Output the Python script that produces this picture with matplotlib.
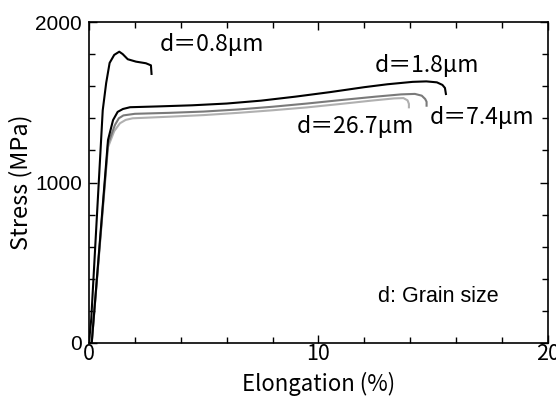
import matplotlib
matplotlib.use("Agg")
import matplotlib.pyplot as plt
from matplotlib.ticker import MultipleLocator

# Elongation (%) / Stress (MPa)
x_08 = [0, 0.1, 0.6, 0.75, 0.9, 1.1, 1.32, 1.47, 1.69, 2.05, 2.48, 2.70, 2.73]
y_08 = [0, 150, 1450, 1620, 1745, 1795, 1815, 1800, 1768, 1753, 1743, 1730, 1670]

x_18 = [0, 0.12, 0.83, 1.05, 1.25, 1.48, 1.79, 3.0, 4.5, 6.0, 7.5, 9.0, 10.5, 12.0, 13.0, 14.1, 14.7, 15.16, 15.4, 15.51, 15.56]
y_18 = [0, 0, 1265, 1389, 1440, 1458, 1469, 1474, 1481, 1492, 1510, 1535, 1563, 1594, 1612, 1627, 1630, 1624, 1608, 1589, 1545]

x_74 = [0, 0.12, 0.83, 1.13, 1.3, 1.5, 2.0, 3.5, 5.0, 6.5, 8.0, 9.5, 11.0, 12.5, 13.6, 14.2, 14.5, 14.65, 14.71, 14.71]
y_74 = [0, 0, 1240, 1358, 1400, 1418, 1428, 1434, 1442, 1455, 1472, 1492, 1514, 1535, 1549, 1552, 1541, 1520, 1503, 1472]

x_267 = [0, 0.12, 0.83, 1.1, 1.35, 1.6, 1.9, 3.5, 5.0, 6.5, 8.0, 9.5, 11.0, 12.3, 13.3, 13.7, 13.88, 13.94, 13.94]
y_267 = [0, 0, 1220, 1320, 1369, 1390, 1400, 1410, 1420, 1434, 1450, 1468, 1490, 1510, 1524, 1526, 1512, 1490, 1462]

labels = ["d＝0.8μm", "d＝1.8μm", "d＝7.4μm", "d＝26.7μm"]
colors = ["#000000", "#000000", "#7a7a7a", "#b0b0b0"]

x_ticks = [0, 10, 20]
y_ticks = [0, 1000, 2000]

fig = plt.figure(figsize=(5.56, 4.0), dpi=100)
ax = fig.add_axes([0.160, 0.1425, 0.8256, 0.8025])

series = [(x_08, y_08), (x_18, y_18), (x_74, y_74), (x_267, y_267)]
order = [3, 2, 1, 0]
for i in order:
    xs, ys = series[i]
    ax.plot(xs, ys, color=colors[i], lw=1.5, solid_joinstyle="round", solid_capstyle="butt")

ax.set_xlim(0, 20)
ax.set_ylim(0, 2000)
ax.set_xticks(x_ticks)
ax.set_yticks(y_ticks)
ax.xaxis.set_minor_locator(MultipleLocator(2))
ax.yaxis.set_minor_locator(MultipleLocator(200))
ax.tick_params(which="both", direction="in", top=True, right=True, width=1.0)
ax.tick_params(which="major", length=6)
ax.tick_params(which="minor", length=4)
for s in ax.spines.values():
    s.set_linewidth(1.2)

cjk = ["Noto Sans CJK JP", "DejaVu Sans"]
for t in ax.get_yticklabels():
    t.set_fontfamily("Liberation Sans")
    t.set_fontsize(15)
for t in ax.get_xticklabels():
    t.set_fontfamily(cjk)
    t.set_fontsize(15.5)
ax.tick_params(axis="y", pad=5)
ax.tick_params(axis="x", pad=0)

ax.set_xlabel("Elongation (%)", family=cjk, fontsize=16)
ax.xaxis.set_label_coords(0.5, -0.09)
ax.xaxis.label.set_va("top")
ax.set_ylabel("Stress (MPa)", family=cjk, fontsize=17, labelpad=2)

lab_pos = [(3.09, 1857), (12.46, 1726), (14.86, 1408), (9.06, 1346)]
for (lx, ly), lab in zip(lab_pos, labels):
    ax.text(lx, ly, lab, family=cjk, fontsize=16.5, ha="left", va="center")

ax.text(12.59, 287, "d: Grain size", family="Liberation Sans", fontsize=15.5, ha="left", va="center")

fig.savefig("out.png", dpi=100)
